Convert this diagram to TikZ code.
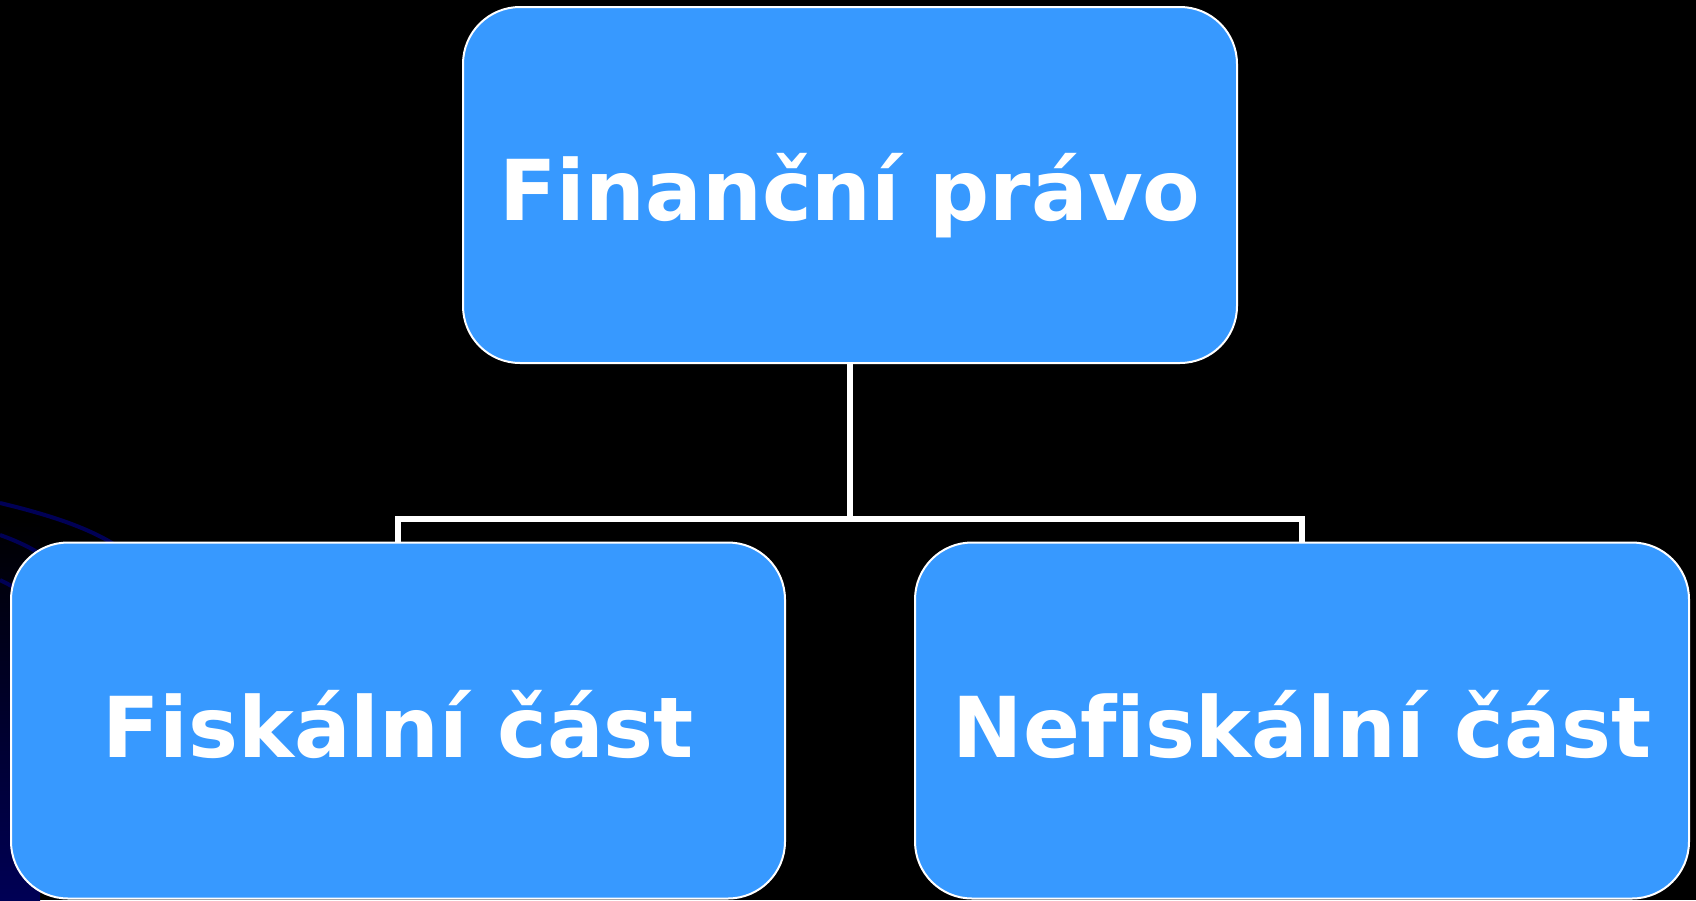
\documentclass[tikz,border=0pt]{standalone}
\usepackage{fontspec}
\setmainfont{DejaVu Sans}[Ligatures=NoCommon]
\usetikzlibrary{positioning}
\definecolor{boxblue}{RGB}{55,153,255}
\definecolor{navy}{RGB}{0,0,85}
\tikzset{
  box/.style={draw=white, line width=2pt, fill=boxblue, rounded corners=57pt,
    minimum width=774pt, minimum height=356pt, inner sep=0pt},
  boxtext/.style={anchor=base, inner sep=0pt, text=white,
    font=\fontsize{84}{96}\bfseries\selectfont},
  conn/.style={draw=white, line width=6pt},
  deco/.style={draw=navy, line width=4pt}
}
\begin{document}
\begin{tikzpicture}[x=1pt,y=-1pt]
\fill[black] (0,0) rectangle (1696,900);
\useasboundingbox (0,0) rectangle (1696,900);
\shade[top color=black, bottom color=navy] (0,520) rectangle (40,900);
\draw[deco] (0,503) .. controls (50,515) and (90,528) .. (120,548);
\draw[deco] (0,535) .. controls (20,542) and (35,550) .. (50,560);
\draw[deco] (0,580) .. controls (10,585) and (20,590) .. (30,600);
\node[box] (top) at (850,185) {};
\node[box] (left) at (398,720.5) {};
\node[box] (right) at (1302,720.5) {};
\node[boxtext] (toptext) at (850,220) {Finanční právo};
\node[boxtext] (lefttext) at (398,757) {Fiskální část};
\node[boxtext] (righttext) at (1302,757) {Nefiskální část};
\coordinate (mid) at (850,519);
\draw[conn] (top.south) -- (mid);
\draw[conn] (left.north) |- (mid) -| (right.north);
\end{tikzpicture}
\end{document}
